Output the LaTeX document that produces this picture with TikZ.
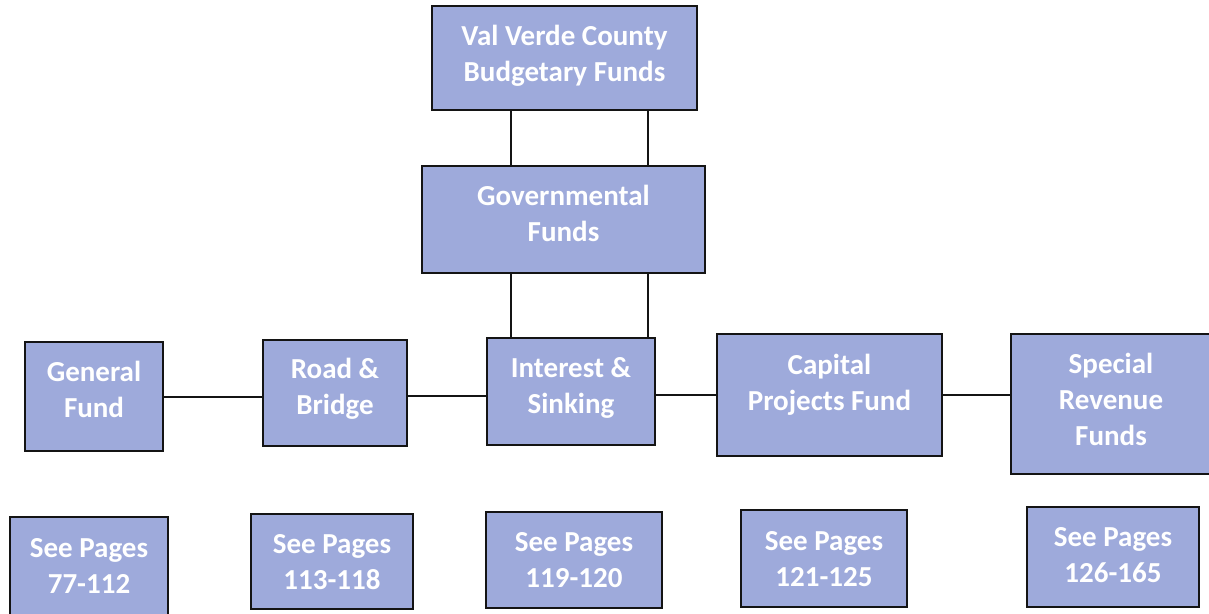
\documentclass[tikz,border=0pt]{standalone}
\usepackage{fontspec}
\setmainfont{Carlito}
\definecolor{boxfill}{RGB}{158,170,219}
\definecolor{boxline}{RGB}{20,20,20}
\begin{document}
\begin{tikzpicture}[x=1pt,y=-1pt,
  fundbox/.style={draw=boxline, line width=2.6pt, fill=boxfill, text=white,
    font=\fontsize{29}{36}\selectfont\bfseries, align=center, inner sep=0pt,
    text depth=15pt},
  link/.style={draw=boxline, line width=2pt}]
\useasboundingbox (0,0) rectangle (1209,613);
% top levels
\node[fundbox, minimum width=265pt, minimum height=104pt, text depth=10pt] (top) at (564.5,58) {Val Verde County\\Budgetary Funds};
\node[fundbox, minimum width=283pt, minimum height=107pt, text depth=13pt] (gov) at (563.5,219.5) {Governmental\\Funds};
% fund row
\node[fundbox, minimum width=138pt, minimum height=109pt, text depth=14pt] (gen) at (94,396.5) {General\\Fund};
\node[fundbox, minimum width=144pt, minimum height=106pt, text depth=13pt] (road) at (335,393) {Road \&\\Bridge};
\node[fundbox, minimum width=168pt, minimum height=107pt, text depth=13pt] (int) at (571,391.5) {Interest \&\\Sinking};
\node[fundbox, minimum width=225pt, minimum height=122pt, text depth=26pt] (cap) at (829.5,395) {Capital\\Projects Fund};
\node[fundbox, minimum width=200pt, minimum height=140pt, text depth=10pt] (spec) at (1111,404) {Special\\Revenue\\Funds};
% page boxes
\node[fundbox, minimum width=158pt, minimum height=102pt, text depth=5pt] (p1) at (89,568) {See Pages\\77-112};
\node[fundbox, minimum width=162pt, minimum height=95pt, text depth=-2pt] (p2) at (332,561.5) {See Pages\\113-118};
\node[fundbox, minimum width=176pt, minimum height=96pt, text depth=1pt] (p3) at (574,560) {See Pages\\119-120};
\node[fundbox, minimum width=166pt, minimum height=97pt, text depth=0pt] (p4) at (824,558.5) {See Pages\\121-125};
\node[fundbox, minimum width=172pt, minimum height=100pt, text depth=4pt] (p5) at (1113,557) {See Pages\\126-165};
% connectors
\draw[link] (top.south -| 511,0) -- (gov.north -| 511,0);
\draw[link] (top.south -| 648,0) -- (gov.north -| 648,0);
\draw[link] (gov.south -| 511,0) -- (int.north -| 511,0);
\draw[link] (gov.south -| 648,0) -- (int.north -| 648,0);
\draw[link] (gen.east |- 0,397) -- (road.west |- 0,397);
\draw[link] (road.east |- 0,396) -- (int.west |- 0,396);
\draw[link] (int.east |- 0,395) -- (cap.west |- 0,395);
\draw[link] (cap.east |- 0,395) -- (spec.west |- 0,395);
\end{tikzpicture}
\end{document}
